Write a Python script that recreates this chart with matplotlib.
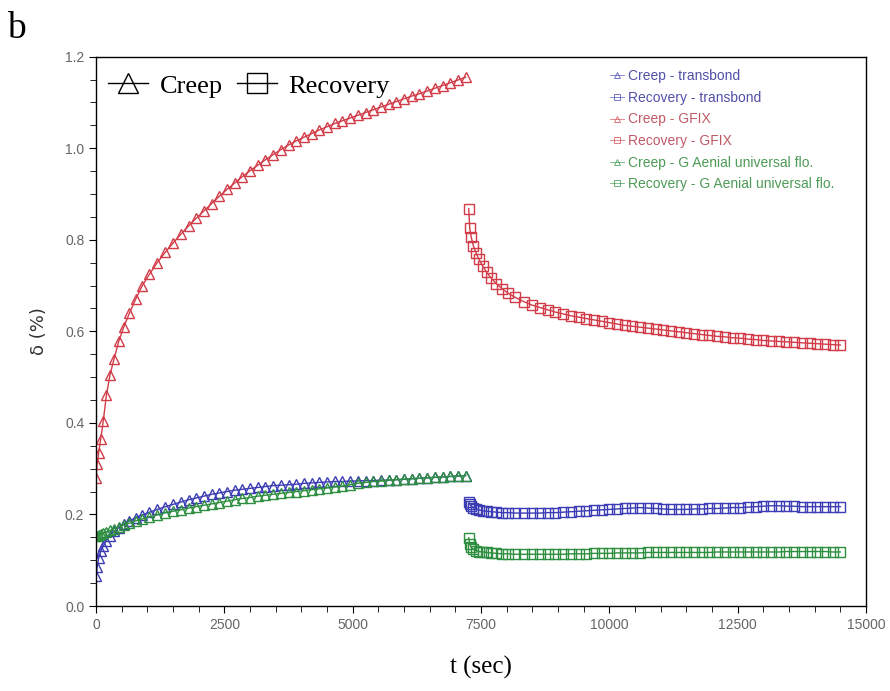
import matplotlib
matplotlib.use('Agg')
import matplotlib.pyplot as plt
from matplotlib.lines import Line2D
from matplotlib.ticker import MultipleLocator

# ======数据======
# 蠕变阶段时间 (sec)
creep_t = [0, 20, 50, 90, 140, 200, 270, 350, 440, 540, 650, 770, 900, 1040, 1190, 1350,
           1500, 1650, 1800, 1950, 2100, 2250, 2400, 2550, 2700, 2850, 3000, 3150, 3300,
           3450, 3600, 3750, 3900, 4050, 4200, 4350, 4500, 4650, 4800, 4950, 5100, 5250,
           5400, 5550, 5700, 5850, 6000, 6150, 6300, 6450, 6600, 6750, 6900, 7050, 7200]

creep_transbond = [0.065, 0.085, 0.105, 0.120, 0.131, 0.143, 0.154, 0.163, 0.171, 0.179,
                   0.186, 0.193, 0.199, 0.205, 0.211, 0.217, 0.222, 0.227, 0.232, 0.236,
                   0.240, 0.244, 0.247, 0.250, 0.253, 0.255, 0.257, 0.259, 0.261, 0.263,
                   0.264, 0.265, 0.266, 0.268, 0.269, 0.270, 0.271, 0.272, 0.272, 0.273,
                   0.273, 0.274, 0.274, 0.275, 0.275, 0.276, 0.277, 0.278, 0.279, 0.280,
                   0.281, 0.282, 0.283, 0.284, 0.285]

creep_gfix = [0.280, 0.310, 0.335, 0.365, 0.405, 0.460, 0.505, 0.540, 0.578, 0.610,
              0.640, 0.670, 0.700, 0.725, 0.750, 0.773, 0.793, 0.812, 0.830, 0.847,
              0.863, 0.879, 0.895, 0.910, 0.924, 0.938, 0.951, 0.963, 0.975, 0.986,
              0.997, 1.007, 1.016, 1.024, 1.032, 1.040, 1.047, 1.054, 1.060, 1.066,
              1.072, 1.078, 1.084, 1.090, 1.096, 1.102, 1.108, 1.114, 1.119, 1.125,
              1.131, 1.137, 1.143, 1.149, 1.155]

creep_gaenial = [0.152, 0.153, 0.155, 0.157, 0.159, 0.162, 0.165, 0.169, 0.173, 0.177,
                 0.181, 0.186, 0.190, 0.195, 0.199, 0.204, 0.207, 0.210, 0.214, 0.217,
                 0.220, 0.223, 0.226, 0.229, 0.232, 0.235, 0.237, 0.240, 0.242, 0.244,
                 0.246, 0.248, 0.250, 0.252, 0.254, 0.256, 0.258, 0.260, 0.262, 0.265,
                 0.268, 0.270, 0.272, 0.273, 0.275, 0.276, 0.277, 0.278, 0.279, 0.280,
                 0.281, 0.282, 0.283, 0.284, 0.285]

# 恢复阶段时间 (sec)
rec_t = [7260, 7280, 7310, 7350, 7400, 7460, 7530, 7610, 7700, 7800, 7910, 8030, 8170, 8330,
         8500, 8650, 8800, 8950, 9100, 9250, 9400, 9550, 9700, 9850, 10000, 10150, 10300,
         10450, 10600, 10750, 10900, 11050, 11200, 11350, 11500, 11650, 11800, 11950,
         12100, 12250, 12400, 12550, 12700, 12850, 13000, 13150, 13300, 13450, 13600,
         13750, 13900, 14050, 14200, 14350, 14500]

rec_transbond = [0.228, 0.222, 0.218, 0.215, 0.212, 0.210, 0.208, 0.207, 0.206, 0.205,
                 0.204, 0.204, 0.203, 0.203, 0.203, 0.203, 0.204, 0.204, 0.205, 0.206,
                 0.207, 0.208, 0.209, 0.210, 0.211, 0.212, 0.213, 0.214, 0.215, 0.214,
                 0.213, 0.212, 0.211, 0.211, 0.211, 0.212, 0.212, 0.213, 0.213, 0.214,
                 0.215, 0.215, 0.216, 0.217, 0.218, 0.219, 0.219, 0.218, 0.218, 0.217,
                 0.217, 0.217, 0.217, 0.217, 0.217]

rec_gfix = [0.868, 0.825, 0.805, 0.787, 0.772, 0.757, 0.743, 0.729, 0.716, 0.704,
            0.693, 0.683, 0.674, 0.665, 0.657, 0.652, 0.647, 0.642, 0.638, 0.634,
            0.631, 0.628, 0.625, 0.622, 0.619, 0.616, 0.613, 0.611, 0.609, 0.607,
            0.605, 0.603, 0.601, 0.599, 0.597, 0.595, 0.593, 0.591, 0.589, 0.588,
            0.586, 0.585, 0.583, 0.582, 0.580, 0.579, 0.578, 0.577, 0.576, 0.575,
            0.574, 0.573, 0.572, 0.571, 0.570]

rec_gaenial = [0.149, 0.135, 0.128, 0.124, 0.121, 0.119, 0.118, 0.117, 0.116, 0.115,
               0.114, 0.114, 0.113, 0.113, 0.113, 0.113, 0.113, 0.113, 0.113, 0.114,
               0.114, 0.114, 0.115, 0.115, 0.115, 0.116, 0.116, 0.116, 0.116, 0.117,
               0.117, 0.117, 0.117, 0.117, 0.117, 0.117, 0.117, 0.117, 0.118, 0.118,
               0.118, 0.118, 0.118, 0.118, 0.118, 0.118, 0.118, 0.119, 0.119, 0.119,
               0.119, 0.119, 0.119, 0.118, 0.118]

names = ['transbond', 'GFIX', 'G Aenial universal flo.']
colors = ['#3c3cb4', '#d23c48', '#2e8f40']
text_colors = ['#5050a8', '#c05a66', '#4c9a55']

# ======绘图======
fig = plt.figure(figsize=(8.9, 6.91), dpi=100)
ax = fig.add_axes([0.108, 0.123, 0.865, 0.795])

creeps = [creep_transbond, creep_gfix, creep_gaenial]
recs = [rec_transbond, rec_gfix, rec_gaenial]

handles = []
labels = []
for i in range(3):
    h1, = ax.plot(creep_t, creeps[i], color=colors[i], lw=1.0, marker='^', ms=7,
                  mfc='none', mec=colors[i], mew=1.0)
    h2, = ax.plot(rec_t, recs[i], color=colors[i], lw=1.0, marker='s', ms=7,
                  mfc='none', mec=colors[i], mew=1.0)
    handles += [h1, h2]
    labels += ['Creep - ' + names[i], 'Recovery - ' + names[i]]

ax.set_xlim(0, 15000)
ax.set_ylim(0, 1.2)
ax.xaxis.set_major_locator(MultipleLocator(2500))
ax.xaxis.set_minor_locator(MultipleLocator(500))
ax.yaxis.set_major_locator(MultipleLocator(0.2))
ax.yaxis.set_minor_locator(MultipleLocator(0.05))
ax.tick_params(which='both', direction='out', top=False, right=False,
               labelsize=10, labelcolor='#666666', labelfontfamily='Liberation Sans')
ax.tick_params(which='major', length=5)
ax.tick_params(which='minor', length=4)
ax.yaxis.set_major_formatter(plt.FuncFormatter(lambda v, p: '{:.1f}'.format(v)))
for s in ax.spines.values():
    s.set_linewidth(1.0)

ax.set_xlabel('t (sec)', fontsize=18, family='Liberation Serif', labelpad=17)
ax.set_ylabel('δ (%)', fontsize=13, family='DejaVu Sans', color='#333333', labelpad=12)

# 左上角图例
h_creep = Line2D([], [], color='black', lw=1, marker='^', ms=15, mfc='none', mec='black')
h_rec = Line2D([], [], color='black', lw=1, marker='s', ms=15, mfc='none', mec='black')
leg1 = ax.legend([h_creep, h_rec], ['Creep', 'Recovery'], loc='upper left', ncol=2,
                 frameon=False, prop={'family': 'Liberation Serif', 'size': 19},
                 handlelength=1.5, columnspacing=0.55, handletextpad=0.45,
                 bbox_to_anchor=(-0.005, 0.997), borderaxespad=0.2)
ax.add_artist(leg1)

# 右上角图例
small = []
for h in handles:
    small.append(Line2D([], [], color=h.get_color(), lw=0.6, marker=h.get_marker(),
                        ms=5, mfc='none', mec=h.get_color(), mew=0.7, alpha=0.7))
leg2 = ax.legend(small, labels, loc='upper right', bbox_to_anchor=(0.975, 1.0),
                 frameon=False, prop={'family': 'Liberation Sans', 'size': 10},
                 handlelength=1.0, handletextpad=0.3, labelspacing=0.55)
for t, c in zip(leg2.get_texts(), [text_colors[0], text_colors[0], text_colors[1],
                                   text_colors[1], text_colors[2], text_colors[2]]):
    t.set_color(c)

fig.text(0.008, 0.945, 'b', fontsize=27, family='Liberation Serif')

plt.savefig('out.png', dpi=100)
